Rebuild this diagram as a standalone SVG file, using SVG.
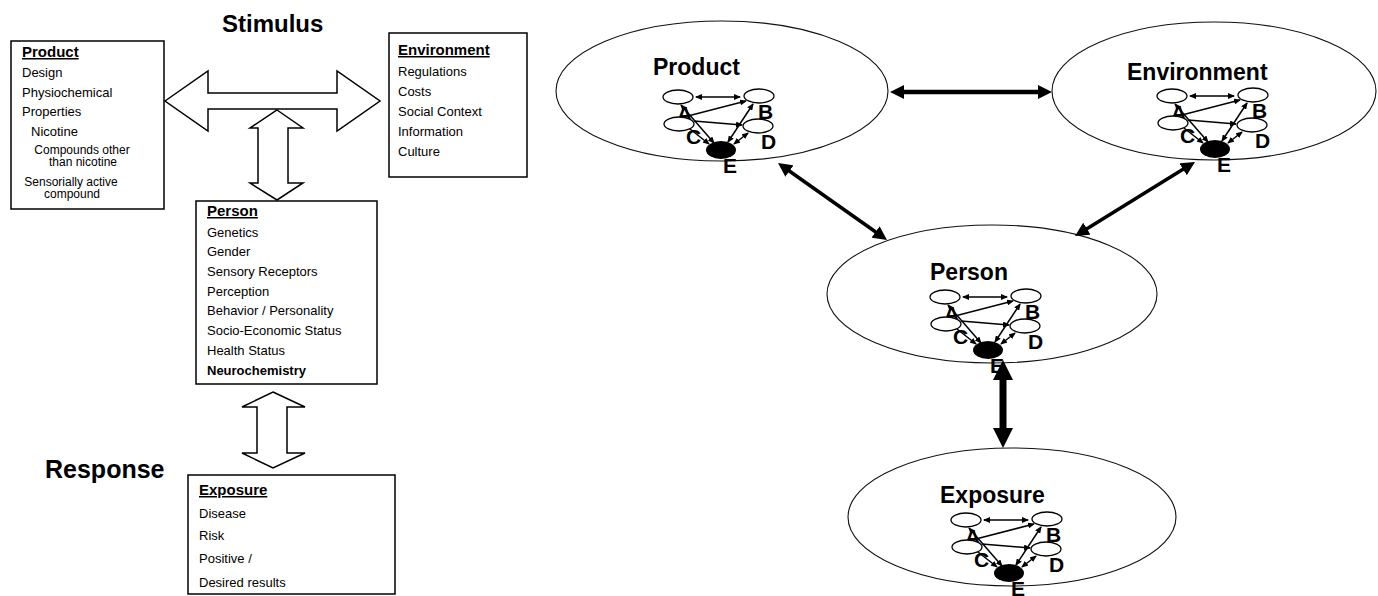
<svg xmlns="http://www.w3.org/2000/svg" xmlns:xlink="http://www.w3.org/1999/xlink" width="1378" height="596" viewBox="0 0 1378 596">
<style>
text{font-family:"Liberation Sans",Arial,sans-serif;fill:#000}
.h{font-size:24px;font-weight:bold}
.bt{font-size:15px;font-weight:bold;text-decoration:underline}
.it{font-size:13px}
.its{font-size:12px}
.itb{font-size:13px;font-weight:bold}
.box{fill:#fff;stroke:#000;stroke-width:1.5}
.blk{fill:#fff;stroke:#000;stroke-width:1.5;stroke-linejoin:miter}
.ell{fill:#fff;stroke:#111;stroke-width:1.1}
.el{font-size:23px;font-weight:bold}
.ml{font-size:21px;font-weight:bold}
.mn{fill:#fff;stroke:#000;stroke-width:1.3}
.me{stroke:#000;stroke-width:1.5;fill:none}
.con{stroke:#000;fill:none}
</style>
<defs>
<marker id="sm" viewBox="0 0 7 6" refX="6" refY="3" markerWidth="7" markerHeight="6" markerUnits="userSpaceOnUse" orient="auto-start-reverse">
<path d="M0,0 L7,3 L0,6 z" fill="#000"/>
</marker>
<marker id="bh" viewBox="0 0 14 14" refX="8" refY="7" markerWidth="14" markerHeight="14" markerUnits="userSpaceOnUse" orient="auto-start-reverse">
<path d="M0,0 L14,7 L0,14 z" fill="#000"/>
</marker>
<marker id="bh2" viewBox="0 0 20 20" refX="12" refY="10" markerWidth="20" markerHeight="20" markerUnits="userSpaceOnUse" orient="auto-start-reverse">
<path d="M0,0 L20,10 L0,20 z" fill="#000"/>
</marker>
<g id="net">
<text class="ml" x="-1" y="24">A</text>
<text class="ml" x="80" y="22">B</text>
<text class="ml" x="8" y="47">C</text>
<text class="ml" x="83" y="52">D</text>
<text class="ml" x="45" y="76">E</text>
<path class="me" d="M18,0 L62,0" marker-start="url(#sm)" marker-end="url(#sm)"/>
<path class="me" d="M6,20 L68,4" marker-end="url(#sm)"/>
<path class="me" d="M16,24 L64,28" marker-end="url(#sm)"/>
<path class="me" d="M3,8 L36,46" marker-start="url(#sm)" marker-end="url(#sm)"/>
<path class="me" d="M12,32 L31,47" marker-end="url(#sm)"/>
<path class="me" d="M50,45 L75,7" marker-start="url(#sm)" marker-end="url(#sm)"/>
<path class="me" d="M56,47 L70,36" marker-start="url(#sm)" marker-end="url(#sm)"/>
<ellipse class="mn" cx="0" cy="0" rx="15" ry="7"/>
<ellipse class="mn" cx="81" cy="-1" rx="15" ry="7"/>
<ellipse class="mn" cx="1" cy="27" rx="15" ry="7"/>
<ellipse class="mn" cx="80" cy="29" rx="15" ry="7"/>
<ellipse cx="43" cy="53" rx="15" ry="9" fill="#000"/>
</g>
</defs>
<rect width="1378" height="596" fill="#fff"/>

<!-- Left panel -->
<text class="h" x="222" y="32">Stimulus</text>
<text class="h" x="45" y="478" style="font-size:25px">Response</text>

<g id="left-arrows">
<path class="blk" d="M165,101 L208,71 L208,93 L337,93 L337,71 L380,101 L337,131 L337,109 L208,109 L208,131 Z"/>
<path class="blk" d="M277,110 L303,128 L288,128 L288,183 L303,183 L277,200 L250,183 L258,183 L258,128 L250,128 Z"/>
<path class="blk" d="M273,392 L305,407 L287,407 L287,453 L305,453 L273,468 L242,453 L257,453 L257,407 L242,407 Z"/>
</g>

<g id="box-product">
<rect class="box" x="11" y="41" width="153" height="168"/>
<text class="bt" x="22" y="57">Product</text>
<text class="it" x="22" y="77">Design</text>
<text class="it" x="22" y="97">Physiochemical</text>
<text class="it" x="22" y="116">Properties</text>
<text class="it" x="31" y="136">Nicotine</text>
<text class="its" x="82" y="154" text-anchor="middle">Compounds other</text>
<text class="its" x="83" y="166" text-anchor="middle">than nicotine</text>
<text class="its" x="71" y="186" text-anchor="middle">Sensorially active</text>
<text class="its" x="72" y="198" text-anchor="middle">compound</text>
</g>

<g id="box-environment">
<rect class="box" x="389" y="33" width="138" height="144"/>
<text class="bt" x="398" y="55">Environment</text>
<text class="it" x="398" y="76">Regulations</text>
<text class="it" x="398" y="96">Costs</text>
<text class="it" x="398" y="116">Social Context</text>
<text class="it" x="398" y="136">Information</text>
<text class="it" x="398" y="156">Culture</text>
</g>

<g id="box-person">
<rect class="box" x="196" y="201" width="181" height="183"/>
<text class="bt" x="207" y="216">Person</text>
<text class="it" x="207" y="237">Genetics</text>
<text class="it" x="207" y="256">Gender</text>
<text class="it" x="207" y="276">Sensory Receptors</text>
<text class="it" x="207" y="296">Perception</text>
<text class="it" x="207" y="315">Behavior / Personality</text>
<text class="it" x="207" y="335">Socio-Economic Status</text>
<text class="it" x="207" y="355">Health Status</text>
<text class="itb" x="207" y="375">Neurochemistry</text>
</g>

<g id="box-exposure">
<rect class="box" x="188" y="475" width="207" height="119"/>
<text class="bt" x="199" y="495">Exposure</text>
<text class="it" x="199" y="518">Disease</text>
<text class="it" x="199" y="540">Risk</text>
<text class="it" x="199" y="563">Positive /</text>
<text class="it" x="199" y="587">Desired results</text>
</g>

<!-- Right panel -->
<g id="node-product">
<ellipse class="ell" cx="722" cy="91" rx="166" ry="70"/>
<text class="el" x="653" y="75">Product</text>
<use xlink:href="#net" href="#net" x="678" y="97"/>
</g>

<g id="node-environment">
<ellipse class="ell" cx="1214" cy="91" rx="162" ry="69"/>
<text class="el" x="1127" y="80">Environment</text>
<use xlink:href="#net" href="#net" x="1172" y="96"/>
</g>

<g id="node-person">
<ellipse class="ell" cx="992" cy="294" rx="165" ry="69"/>
<text class="el" x="930" y="280">Person</text>
<use xlink:href="#net" href="#net" x="945" y="297"/>
</g>

<g id="node-exposure">
<ellipse class="ell" cx="1012" cy="517" rx="164" ry="69"/>
<text class="el" x="940" y="503">Exposure</text>
<use xlink:href="#net" href="#net" x="966" y="520"/>
</g>

<g id="connectors">
<line class="con" x1="896" y1="92" x2="1046" y2="92" stroke-width="4.5" marker-start="url(#bh)" marker-end="url(#bh)"/>
<line class="con" x1="782.9" y1="166.5" x2="882.1" y2="236.5" stroke-width="3.5" marker-start="url(#bh)" marker-end="url(#bh)"/>
<line class="con" x1="1189.9" y1="165.1" x2="1080.1" y2="232.9" stroke-width="3.5" marker-start="url(#bh)" marker-end="url(#bh)"/>
<line class="con" x1="1003" y1="368" x2="1003" y2="440" stroke-width="7" marker-start="url(#bh2)" marker-end="url(#bh2)"/>
</g>
</svg>
